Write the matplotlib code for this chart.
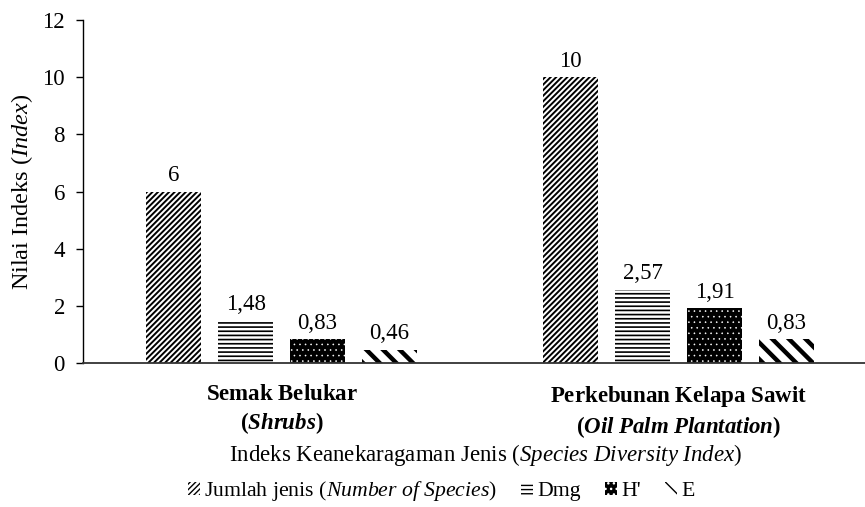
import matplotlib
matplotlib.use('Agg')
import matplotlib.pyplot as plt
import numpy as np

# ---------------------------------------------------------
# data
# ---------------------------------------------------------
CATEGORIES = [
    r"$\mathbf{Semak\ Belukar}$" + "\n" + r"$\mathbf{(}\mathbfit{Shrubs}\mathbf{)}$",
    r"$\mathbf{Perkebunan\ Kelapa\ Sawit}$" + "\n" + r"$\mathbf{(}\mathbfit{Oil\ Palm\ Plantation}\mathbf{)}$",
]
SERIES = [r"Jumlah jenis ($\mathit{Number\ of\ Species}$)", "Dmg", "H'", "E"]
JUMLAH = [6, 10]
DMG = [1.48, 2.57]
H_SHANNON = [0.83, 1.91]
E_EVEN = [0.46, 0.83]
VALUE_TEXT = [["6", "10"], ["1,48", "2,57"], ["0,83", "1,91"], ["0,46", "0,83"]]

FS = 16.5
plt.rcParams['font.family'] = ['Liberation Serif', 'DejaVu Serif']
plt.rcParams['mathtext.fontset'] = 'custom'
plt.rcParams['mathtext.rm'] = 'Liberation Serif'
plt.rcParams['mathtext.it'] = 'Liberation Serif:italic'
plt.rcParams['mathtext.bf'] = 'Liberation Serif:bold'
plt.rcParams['mathtext.bfit'] = 'Liberation Serif:bold:italic'
plt.rcParams['font.size'] = FS

fig = plt.figure(figsize=(8.65, 5.07), dpi=100)
ax = fig.add_axes([83 / 865, 1 - 363 / 507, 794 / 865, 343 / 507])

x = np.arange(len(CATEGORIES))
width = 0.139
step = 0.181
offsets = (np.arange(4) - 1.5) * step

# style per series: (hatch, face, hatchcolor, hatch linewidth)
styles = [
    ('//////', 'white', 'black', 1.4),
    ('----', 'white', 'black', 1.2),
    ('...', 'black', 'white', 0.4),
    (r'\\', 'white', 'black', 3.2),
]

handles = []
for i, vals in enumerate([JUMLAH, DMG, H_SHANNON, E_EVEN]):
    hatch, face, hcol, hlw = styles[i]
    with plt.rc_context({'hatch.linewidth': hlw}):
        bars = ax.bar(x + offsets[i], vals, width, facecolor=face,
                      edgecolor=hcol, hatch=hatch, linewidth=0, label=SERIES[i])
    for b in bars:
        if hasattr(b, 'set_hatch_linewidth'):
            b.set_hatch_linewidth(hlw)
    handles.append(bars)
    for b, t in zip(bars, VALUE_TEXT[i]):
        ax.annotate(t, (b.get_x() + b.get_width() / 2, b.get_height()),
                    xytext=(0, 4), textcoords='offset points',
                    ha='center', va='bottom', fontsize=FS)

ax.set_xlim(-0.5, 1.5)
ax.set_ylim(0, 12)
ax.set_yticks(range(0, 13, 2))
ax.set_xticks(x)
ax.set_xticklabels(CATEGORIES, fontsize=FS, linespacing=1.3)
ax.tick_params(axis='x', length=0, pad=15)
ax.tick_params(axis='y', length=5, width=1, pad=8, labelsize=FS)
for s in ['top', 'right']:
    ax.spines[s].set_visible(False)
ax.spines['left'].set_linewidth(1)
ax.spines['bottom'].set_linewidth(1.3)
ax.spines['bottom'].set_color('#333333')

ax.set_ylabel(r"Nilai Indeks ($\mathit{Index}$)", fontsize=17.5, labelpad=5)
fig.text(486 / 865, 1 - 455 / 507,
         r"Indeks Keanekaragaman Jenis ($\mathit{Species\ Diversity\ Index}$)",
         ha='center', va='center', fontsize=FS)

leg = fig.legend(handles=handles, labels=SERIES, loc='center',
                 bbox_to_anchor=(441 / 865, 1 - 491 / 507), ncol=4,
                 frameon=False, handlelength=0.55, handleheight=0.55,
                 handletextpad=0.2, columnspacing=1.1, fontsize=15.7)

fig.savefig('out.png', dpi=100)
